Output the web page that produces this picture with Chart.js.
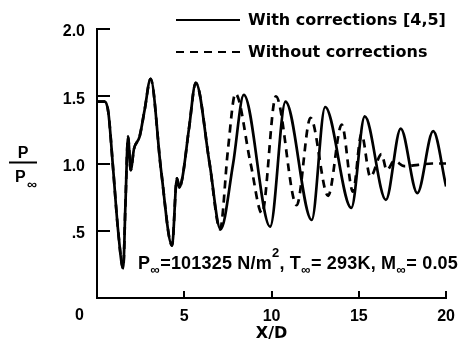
<!DOCTYPE html>
<html>
<head>
<meta charset="utf-8">
<script src="https://cdn.jsdelivr.net/npm/chart.js@4.4.1/dist/chart.umd.min.js"></script>
<style>
html, body { margin: 0; padding: 0; background: #fff; }
</style>
</head>
<body>
<canvas id="chart" width="464" height="350"></canvas>
<script>
// With corrections [4,5] (solid)
const withX = [0, 0.45, 0.65, 0.93, 1.21, 1.5, 1.63, 1.78, 1.93, 2.12, 2.44, 2.73, 3.07, 3.67, 4.3, 4.58, 4.72, 4.9, 5.28, 5.66, 6.45, 7.08, 7.8, 8.41, 9.92, 10.8, 12.3, 13.07, 14.57, 15.34, 16.55, 17.4, 18.35, 19.26, 20];
const withP = [1.46, 1.46, 1.38, 0.95, 0.5, 0.22, 0.7, 1.2, 0.95, 1.11, 1.2, 1.4, 1.63, 0.95, 0.39, 0.89, 0.82, 0.9, 1.27, 1.6, 1.0, 0.51, 1.0, 1.51, 0.53, 1.46, 0.58, 1.42, 0.67, 1.35, 0.73, 1.26, 0.78, 1.24, 0.83];

// Without corrections (dashed)
const withoutX = [0, 0.45, 0.65, 0.93, 1.21, 1.5, 1.63, 1.78, 1.93, 2.12, 2.44, 2.73, 3.07, 3.67, 4.3, 4.58, 4.72, 4.9, 5.28, 5.66, 6.45, 7.05, 7.5, 7.93, 8.8, 9.45, 10.25, 11.44, 12.23, 13.24, 14.02, 14.66, 15.15, 15.66, 16.3, 16.6, 17.03, 17.6, 18.4, 19.2, 20];
const withoutP = [1.46, 1.46, 1.38, 0.95, 0.5, 0.22, 0.7, 1.2, 0.95, 1.11, 1.2, 1.4, 1.63, 0.95, 0.39, 0.89, 0.82, 0.9, 1.27, 1.6, 1.0, 0.51, 1.1, 1.52, 1.0, 0.63, 1.5, 0.69, 1.34, 0.76, 1.29, 0.79, 1.22, 0.9, 1.07, 0.95, 1.02, 0.98, 0.99, 1.0, 1.0];

const seriesLabels = ['With corrections [4,5]', 'Without corrections'];
const xTickValues = [5, 10, 15, 20];
const yTickValues = [0.5, 1.0, 1.5, 2.0];

// annotation pieces: main text, subscript (sub) and superscript (sup)
const noteParts = [
	{ t: 'P' }, { t: '\u221e', sub: true }, { t: '=101325 N/m' }, { t: '2', sup: true },
	{ t: ', T' }, { t: '\u221e', sub: true }, { t: '= 293K, M' }, { t: '\u221e', sub: true }, { t: '= 0.05' },
];

const TICK_FONT = 'bold 16px "Liberation Sans", Arial, sans-serif';
const LEGEND_FONT = 'bold 16px "DejaVu Sans", sans-serif';

const toPoints = (xs, ys) => xs.map((x, i) => ({ x, y: ys[i] }));

// draws axis ticks pointing inward, the P/P∞ label, the lone "0", legend and note
const decorPlugin = {
	id: 'decor',
	afterDraw(chart) {
		const { ctx, chartArea, scales } = chart;
		const xs = scales.x;
		const ys = scales.y;
		ctx.save();
		ctx.strokeStyle = '#000';
		ctx.fillStyle = '#000';
		ctx.lineWidth = 2;

		// inward ticks
		yTickValues.forEach((v) => {
			const py = Math.round(ys.getPixelForValue(v));
			ctx.beginPath();
			ctx.moveTo(chartArea.left, py);
			ctx.lineTo(chartArea.left + 13, py);
			ctx.stroke();
		});
		xTickValues.forEach((v) => {
			const px = Math.round(xs.getPixelForValue(v));
			ctx.beginPath();
			ctx.moveTo(px, chartArea.bottom);
			ctx.lineTo(px, chartArea.bottom - 7);
			ctx.stroke();
		});

		// origin label
		ctx.font = TICK_FONT;
		ctx.textAlign = 'right';
		ctx.textBaseline = 'middle';
		ctx.fillText('0', chartArea.left - 13, chartArea.bottom + 18);

		// y axis label as a fraction
		ctx.textAlign = 'center';
		ctx.textBaseline = 'alphabetic';
		ctx.fillText('P', 23, 158);
		ctx.beginPath();
		ctx.moveTo(9, 162.5);
		ctx.lineTo(37, 162.5);
		ctx.stroke();
		ctx.textAlign = 'left';
		ctx.fillText('P', 15, 182);
		ctx.font = 'bold 14px "Liberation Sans", Arial, sans-serif';
		ctx.fillText('\u221e', 27, 189);

		// legend
		chart.data.datasets.forEach((ds, i) => {
			const ly = 20 + i * 32;
			ctx.lineWidth = 2;
			ctx.setLineDash(ds.borderDash || []);
			ctx.beginPath();
			ctx.moveTo(176, ly);
			ctx.lineTo(240, ly);
			ctx.stroke();
			ctx.setLineDash([]);
			ctx.font = LEGEND_FONT;
			ctx.textAlign = 'left';
			ctx.textBaseline = 'middle';
			ctx.fillText(ds.label, 248, ly + 1);
		});

		// conditions note
		const mainFont = 'bold 18px "Liberation Sans", Arial, sans-serif';
		const smallFont = 'bold 13px "Liberation Sans", Arial, sans-serif';
		ctx.textBaseline = 'alphabetic';
		ctx.letterSpacing = '0.2px';
		let nx = 138;
		const ny = 269;
		noteParts.forEach((p) => {
			ctx.font = (p.sub || p.sup) ? smallFont : mainFont;
			const dy = p.sub ? 5 : (p.sup ? -12 : 0);
			ctx.fillText(p.t, nx, ny + dy);
			nx += ctx.measureText(p.t).width + (p.sub ? 0.5 : 0);
		});
		ctx.restore();
	},
};

new Chart(document.getElementById('chart'), {
	type: 'line',
	data: {
		datasets: [
			{
				label: seriesLabels[0],
				data: toPoints(withX, withP),
				borderColor: '#000',
				borderWidth: 2.7,
				pointRadius: 0,
				cubicInterpolationMode: 'monotone',
				fill: false,
			},
			{
				label: seriesLabels[1],
				data: toPoints(withoutX, withoutP),
				borderColor: '#000',
				borderWidth: 2.7,
				borderDash: [8, 6],
				pointRadius: 0,
				cubicInterpolationMode: 'monotone',
				fill: false,
			},
		],
	},
	options: {
		responsive: false,
		animation: false,
		layout: { padding: { top: 29, right: 15, left: 0, bottom: 0 } },
		plugins: {
			legend: { display: false },
			tooltip: { enabled: false },
		},
		scales: {
			x: {
				type: 'linear',
				min: 0,
				max: 20,
				afterFit: (s) => { s.height = 52; },
				grid: { display: false, drawTicks: false },
				border: { display: true, color: '#000', width: 2 },
				ticks: {
					stepSize: 5,
					padding: 9,
					color: '#000',
					font: { family: '"Liberation Sans", Arial, sans-serif', size: 16, weight: 'bold' },
					callback: (v) => (v === 0 ? '' : String(v)),
				},
				title: {
					display: true,
					text: 'X/D',
					color: '#000',
					padding: { top: 0, bottom: 7 },
					font: { family: '"DejaVu Sans", sans-serif', size: 16, weight: 'bold' },
				},
			},
			y: {
				min: 0,
				max: 2,
				afterFit: (s) => { s.width = 97; },
				grid: { display: false, drawTicks: false },
				border: { display: true, color: '#000', width: 2 },
				ticks: {
					stepSize: 0.5,
					padding: 12,
					labelOffset: 3,
					color: '#000',
					font: { family: '"Liberation Sans", Arial, sans-serif', size: 16, weight: 'bold' },
					callback: (v) => (v === 0 ? '' : (v === 0.5 ? '.5' : v.toFixed(1))),
				},
			},
		},
	},
	plugins: [decorPlugin],
});
</script>
</body>
</html>
